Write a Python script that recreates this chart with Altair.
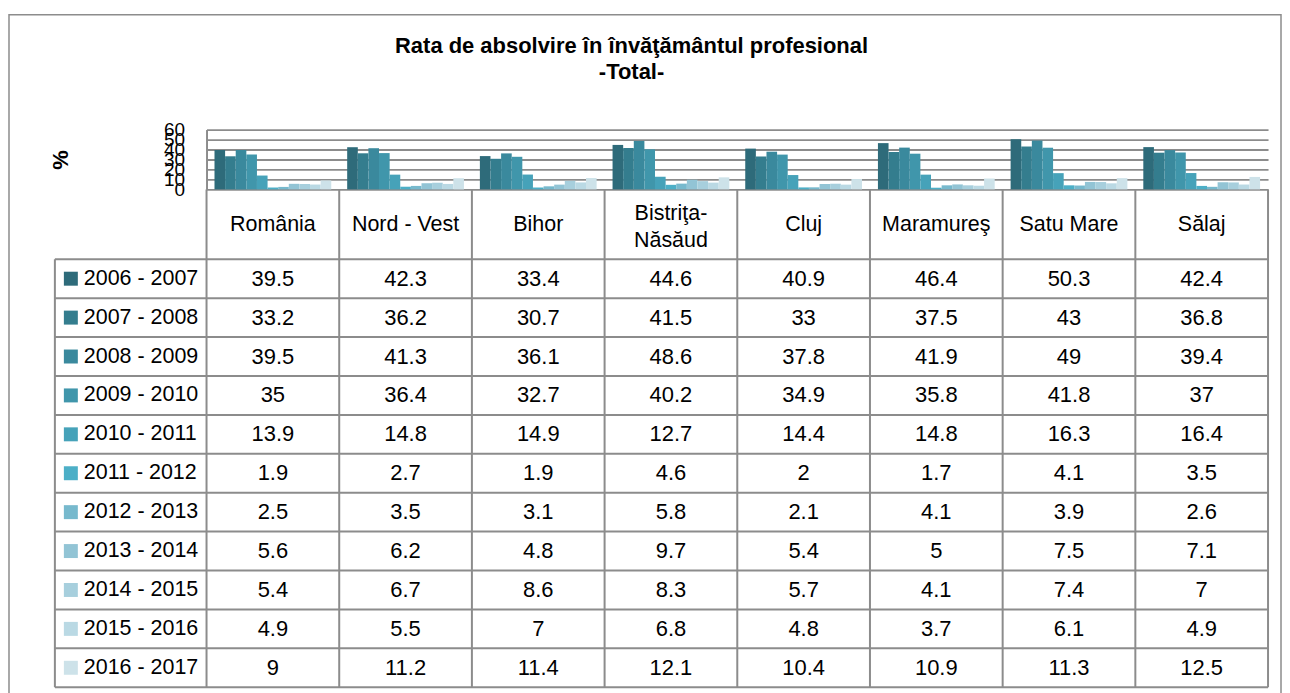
import altair as alt
import pandas as pd

categories = ["România", "Nord - Vest", "Bihor", "Bistriţa-Năsăud", "Cluj", "Maramureş", "Satu Mare", "Sălaj"]
header_labels = ["România", "Nord - Vest", "Bihor", "Bistriţa-\nNăsăud", "Cluj", "Maramureş", "Satu Mare", "Sălaj"]
series = ["2006 - 2007", "2007 - 2008", "2008 - 2009", "2009 - 2010", "2010 - 2011", "2011 - 2012",
          "2012 - 2013", "2013 - 2014", "2014 - 2015", "2015 - 2016", "2016 - 2017"]

v0607 = [39.5, 42.3, 33.4, 44.6, 40.9, 46.4, 50.3, 42.4]
v0708 = [33.2, 36.2, 30.7, 41.5, 33, 37.5, 43, 36.8]
v0809 = [39.5, 41.3, 36.1, 48.6, 37.8, 41.9, 49, 39.4]
v0910 = [35, 36.4, 32.7, 40.2, 34.9, 35.8, 41.8, 37]
v1011 = [13.9, 14.8, 14.9, 12.7, 14.4, 14.8, 16.3, 16.4]
v1112 = [1.9, 2.7, 1.9, 4.6, 2, 1.7, 4.1, 3.5]
v1213 = [2.5, 3.5, 3.1, 5.8, 2.1, 4.1, 3.9, 2.6]
v1314 = [5.6, 6.2, 4.8, 9.7, 5.4, 5, 7.5, 7.1]
v1415 = [5.4, 6.7, 8.6, 8.3, 5.7, 4.1, 7.4, 7]
v1516 = [4.9, 5.5, 7, 6.8, 4.8, 3.7, 6.1, 4.9]
v1617 = [9, 11.2, 11.4, 12.1, 10.4, 10.9, 11.3, 12.5]

colors = ["#2E6B7A", "#347D8E", "#3A899D", "#4096AB", "#46A2B9", "#4CAFC7",
          "#77B9CD", "#92C4D5", "#A7CFDD", "#BAD9E4", "#CDE2E9"]

title_lines = "Rata de absolvire în învăţământul profesional\n-Total-"

all_values = [v0607, v0708, v0809, v0910, v1011, v1112, v1213, v1314, v1415, v1516, v1617]
rows = []
for s, vals in zip(series, all_values):
    for c, v in zip(categories, vals):
        rows.append({"category": c, "series": s, "value": v, "label": f"{v:g}"})
df = pd.DataFrame(rows)
hdr_df = pd.DataFrame({"category": categories, "label": header_labels,
                       "lines": [lbl.count("\n") + 1 for lbl in header_labels]})
ser_df = pd.DataFrame({"series": series})
one = pd.DataFrame({"t": [title_lines]})

FONT = "Liberation Sans, Arial, sans-serif"
GRID = "#8c8c8c"
W = 1064
ROW_TOP, ROW_BOT = 130, 559

cat_scale = alt.Scale(domain=categories, paddingInner=0, paddingOuter=0)
ser_scale = alt.Scale(domain=series, range=[ROW_TOP, ROW_BOT], paddingInner=0, paddingOuter=0)
color_scale = alt.Scale(domain=series, range=colors)

frame = alt.Chart(one).mark_rect(filled=False, stroke=GRID, strokeWidth=1.5).encode(
    x=alt.value(-198), x2=alt.value(1077), y=alt.value(-115), y2=alt.value(590))

title = alt.Chart(one).mark_text(font=FONT, fontSize=22, fontWeight="bold", lineBreak="\n",
                                 lineHeight=26, baseline="middle", align="center").encode(
    x=alt.value(426), y=alt.value(-84), text="t:N")

bars = alt.Chart(df).mark_bar().encode(
    x=alt.X("category:N", sort=categories,
            scale=alt.Scale(domain=categories, paddingInner=0.12, paddingOuter=0.06), axis=None),
    xOffset=alt.XOffset("series:N", sort=series, scale=alt.Scale(domain=series, paddingInner=0, paddingOuter=0)),
    y=alt.Y("value:Q", scale=alt.Scale(domain=[0, 60], range=[60, 0], nice=False, zero=True),
            axis=alt.Axis(values=[0, 10, 20, 30, 40, 50, 60], grid=True, gridColor=GRID, gridWidth=1.8,
                          domain=True, domainColor=GRID, domainWidth=2, ticks=False,
                          labelFont=FONT, labelFontSize=19, labelColor="black", labelOverlap=False,
                          labelFlush=False, labelBound=False, labelPadding=22, labelBaseline="middle",
                          title="%", titleFont=FONT, titleFontSize=22, titleFontWeight="bold",
                          titleAngle=-90, titleX=-146, titleY=30, titleAlign="center",
                          titleBaseline="middle", titleColor="black")),
    color=alt.Color("series:N", sort=series, scale=color_scale, legend=None),
)

vlines = alt.Chart(hdr_df).mark_rule(color=GRID, strokeWidth=2).encode(
    x=alt.X("category:N", sort=categories, bandPosition=0, scale=cat_scale, axis=None),
    y=alt.value(60), y2=alt.value(ROW_BOT))
vright = alt.Chart(hdr_df.tail(1)).mark_rule(color=GRID, strokeWidth=2).encode(
    x=alt.X("category:N", sort=categories, bandPosition=1, scale=cat_scale, axis=None),
    y=alt.value(60), y2=alt.value(ROW_BOT))
vleft = alt.Chart(one).mark_rule(color=GRID, strokeWidth=2).encode(
    x=alt.value(-152), y=alt.value(ROW_TOP), y2=alt.value(ROW_BOT))

hlines = alt.Chart(ser_df).mark_rule(color=GRID, strokeWidth=2).encode(
    y=alt.Y("series:N", sort=series, bandPosition=0, scale=ser_scale, axis=None),
    x=alt.value(-152), x2=alt.value(W))
hbottom = alt.Chart(ser_df.tail(1)).mark_rule(color=GRID, strokeWidth=2).encode(
    y=alt.Y("series:N", sort=series, bandPosition=1, scale=ser_scale, axis=None),
    x=alt.value(-152), x2=alt.value(W))

header1 = alt.Chart(hdr_df).transform_filter("datum.lines == 1").mark_text(
    font=FONT, fontSize=21.5, baseline="middle", color="black").encode(
    x=alt.X("category:N", sort=categories, scale=cat_scale, axis=None),
    y=alt.value(96), text="label:N")
header2 = alt.Chart(hdr_df).transform_filter("datum.lines == 2").mark_text(
    font=FONT, fontSize=21.5, lineBreak="\n", lineHeight=27, baseline="middle", color="black").encode(
    x=alt.X("category:N", sort=categories, scale=cat_scale, axis=None),
    y=alt.value(85), text="label:N")

cells = alt.Chart(df).mark_text(font=FONT, fontSize=22, baseline="middle", color="black").encode(
    x=alt.X("category:N", sort=categories, scale=cat_scale, axis=None),
    y=alt.Y("series:N", sort=series, scale=ser_scale, axis=None),
    text="label:N")

row_labels = alt.Chart(ser_df).mark_text(font=FONT, fontSize=21.5, align="left", baseline="middle",
                                         color="black").encode(
    x=alt.value(-123),
    y=alt.Y("series:N", sort=series, scale=ser_scale, axis=None),
    text="series:N")

swatches = alt.Chart(ser_df).mark_square(size=196, opacity=1).encode(
    x=alt.value(-136),
    y=alt.Y("series:N", sort=series, scale=ser_scale, axis=None),
    color=alt.Color("series:N", sort=series, scale=color_scale, legend=None))

chart = alt.layer(frame, title, bars, vlines, vright, vleft, hlines, hbottom,
                  header1, header2, cells, row_labels, swatches).resolve_scale(
    x="independent", y="independent").properties(
    width=W, height=560, padding={"top": 5, "left": 0, "right": 0, "bottom": 0}).configure_view(stroke=None)

chart.save("out.html", embed_options={"renderer": "svg", "actions": False})
